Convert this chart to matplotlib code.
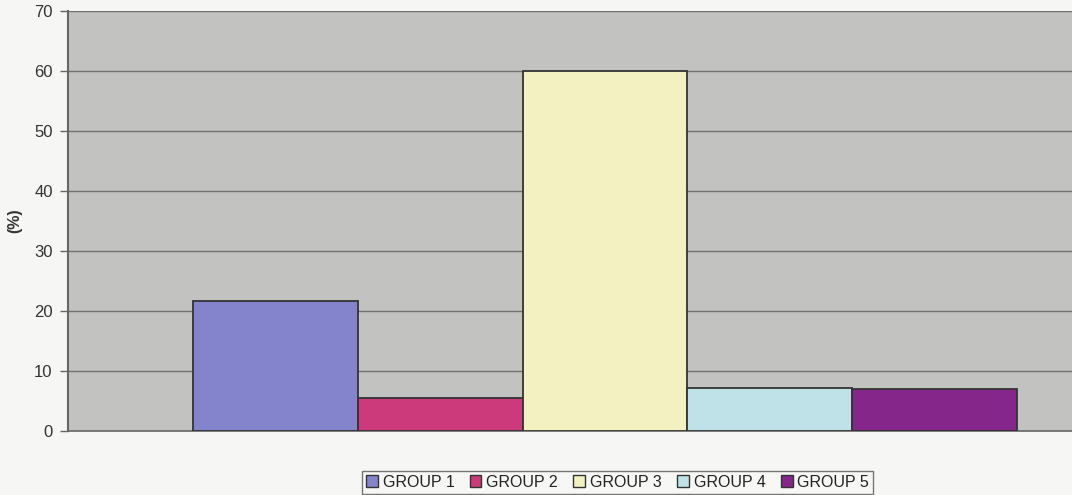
import numpy as np
import matplotlib.pyplot as plt
from matplotlib.patches import Patch

plt.rcParams['font.family'] = ['Liberation Sans', 'DejaVu Sans']

# values
groups = ["GROUP 1", "GROUP 2", "GROUP 3", "GROUP 4", "GROUP 5"]
values = [21.7, 5.5, 60.0, 7.2, 7.0]
colors = ["#8484cc", "#cc3a7c", "#f3f0c2", "#bfe2e8", "#85278a"]
yticks = [0, 10, 20, 30, 40, 50, 60, 70]

fig = plt.figure(figsize=(10.72, 4.95), dpi=100, facecolor="#f6f6f4")
ax = fig.add_axes([0.0634, 0.1293, 0.9366, 0.8485])
ax.set_facecolor("#c2c2c0")

x = np.arange(len(groups))
ax.bar(x, values, width=1.0, color=colors, edgecolor="#333333", linewidth=1.3, zorder=3)

ax.set_ylim(0, 70)
ax.set_xlim(-1.258, 4.833)
ax.set_yticks(yticks)
ax.set_xticks([])
ax.yaxis.grid(True, color="#707070", linewidth=1.0, zorder=0)
ax.set_axisbelow(True)

for side in ["top", "right"]:
    ax.spines[side].set_visible(False)
ax.spines["left"].set_color("#666666")
ax.spines["left"].set_linewidth(1.5)
ax.spines["bottom"].set_color("#666666")
ax.spines["bottom"].set_linewidth(1.2)

ax.tick_params(axis="y", direction="out", length=6, width=1, color="#666666",
               labelsize=12, labelcolor="#333333", pad=5)
ax.set_ylabel("(%)", fontsize=11.5, fontweight="bold", color="#333333")
ax.yaxis.set_label_coords(-0.046, 0.5)

handles = [Patch(facecolor=c, edgecolor="#333333", linewidth=1.0) for c in colors]
leg = fig.legend(handles, groups, loc="center", bbox_to_anchor=(0.576, 0.026), ncol=5,
                 frameon=True, fancybox=False, fontsize=11.5, handlelength=0.75,
                 handleheight=0.75, handletextpad=0.3, columnspacing=0.95,
                 borderpad=0.25, labelcolor="#222222")
leg.get_frame().set_edgecolor("#555555")
leg.get_frame().set_facecolor("#f8f8f6")
leg.get_frame().set_linewidth(1.0)

fig.savefig("out.png", dpi=100, facecolor=fig.get_facecolor())
